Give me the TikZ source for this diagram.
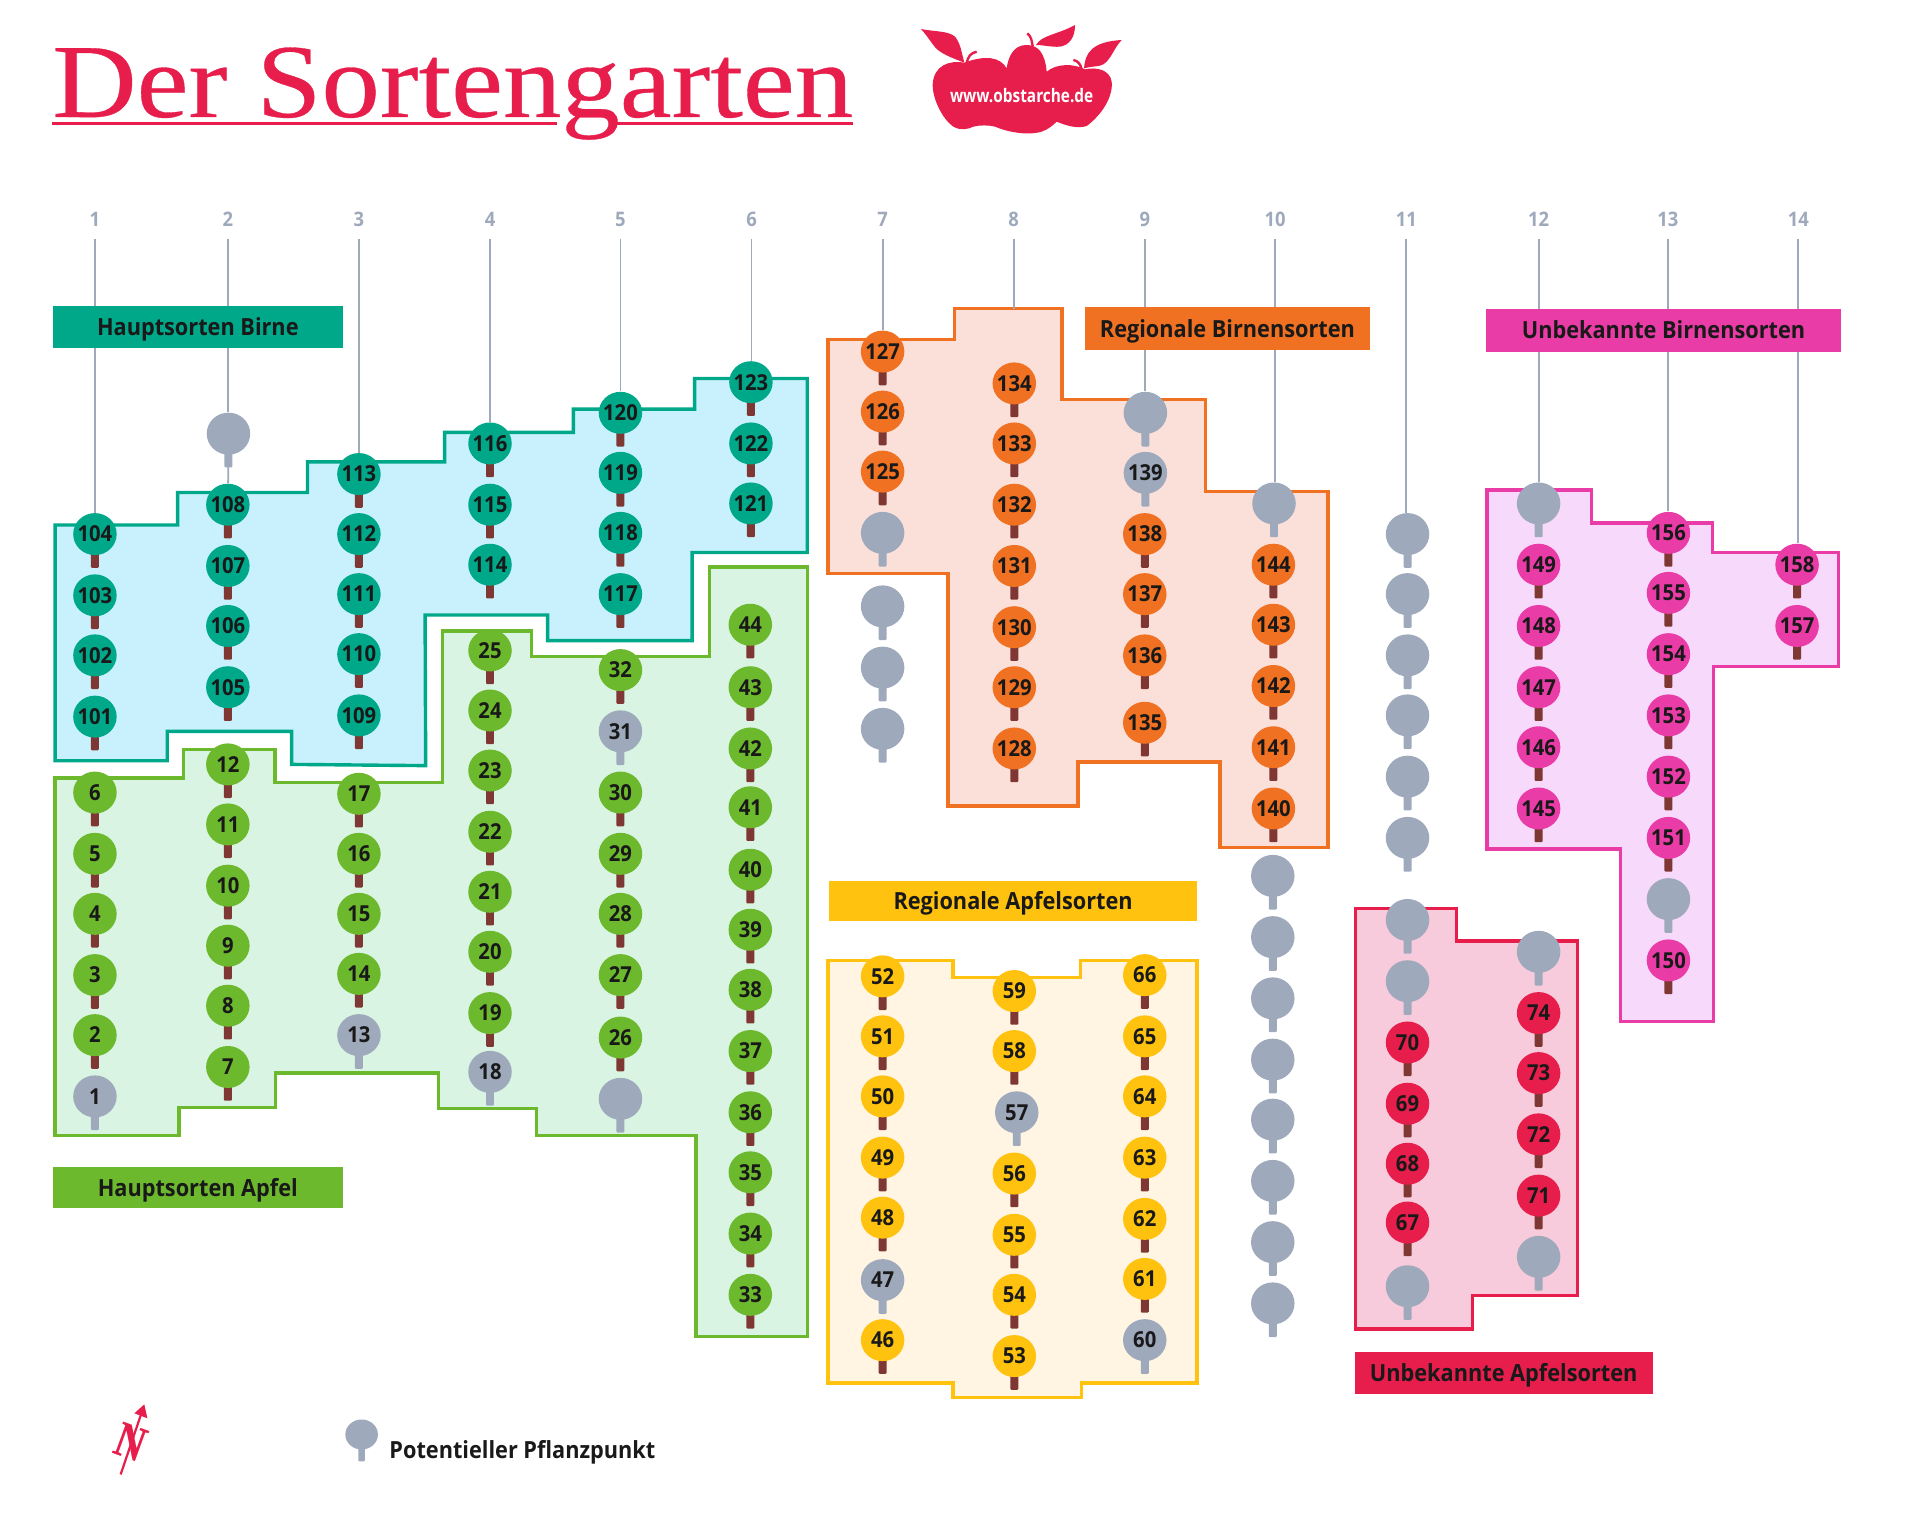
\documentclass[tikz,border=0pt]{standalone}
\usepackage{fontspec}
\usetikzlibrary{shapes.geometric}
\setmainfont{Open Sans}
\newfontfamily\numfont[FakeStretch=0.92]{Open Sans}
\newfontfamily\titlefont[FakeBold=0.3]{Liberation Serif}
\definecolor{cteal}{HTML}{00A88A}
\definecolor{cgreen}{HTML}{6CB92E}
\definecolor{corange}{HTML}{F07122}
\definecolor{cyellow}{HTML}{FFC20E}
\definecolor{cred}{HTML}{E71D4B}
\definecolor{cpink}{HTML}{E93CA6}
\definecolor{cgray}{HTML}{9EA9BC}
\definecolor{cstem}{HTML}{7F3733}
\definecolor{fteal}{HTML}{C9F1FD}
\definecolor{fgreen}{HTML}{D9F4E3}
\definecolor{forange}{HTML}{FBE0DA}
\definecolor{fyellow}{HTML}{FFF5E2}
\definecolor{fred}{HTML}{F7CBDB}
\definecolor{fpink}{HTML}{F7D9FC}
\tikzset{
  bed/.style n args={2}{draw=#1,fill=#2,line width=1.7pt,miter limit=10},
  treenode/.style={ellipse,fill=#1,inner sep=0pt,minimum width=21.75pt,minimum height=21pt,
     font=\numfont\bfseries\fontsize{11}{11}\selectfont,text=black!90},
  colline/.style={draw=cgray,line width=0.9pt},
  collabel/.style={text=cgray,font=\numfont\bfseries\fontsize{10}{10}\selectfont,inner sep=0pt},
  labelbox/.style n args={3}{fill=#1,minimum width=#2*0.6125pt,minimum height=#3*0.6125pt,inner sep=0pt,
     text height=8.6pt,text depth=0pt,
     font=\numfont\bfseries\fontsize{11.8}{11.8}\selectfont,text=black!90},
}
% \treeat{x}{y}{name}{colour}{stem colour}{text}
\newcommand{\treeat}[6]{%
  \fill[#5,rounded corners=0.5pt] (#1-3.25,#2) rectangle (#1+3.25,#2+27.5);
  \node[treenode=#4] (#3) at (#1,#2) {\makebox[0pt]{\raisebox{-3.9pt}[0pt][0pt]{#6}}};
}
\newcommand{\lst}[3]{% x, colour, list y/number
  \foreach \yy/\nn in {#3} {\treeat{#1}{\yy}{t\nn}{#2}{cstem}{\nn}}%
}
\newcommand{\gry}[2]{% x, list y/number
  \foreach \yy/\nn in {#2} {\treeat{#1}{\yy}{t\nn}{cgray}{cgray}{\nn}}%
}
\newcommand{\blank}[2]{% x, list y/name
  \foreach \yy/\nn in {#2} {\treeat{#1}{\yy}{g\nn}{cgray}{cgray}{}}%
}
\begin{document}
\begin{tikzpicture}[x=0.6125pt,y=-0.6125pt]
\useasboundingbox (0,0) rectangle (1567.35,1246.53);
% beds
\path[bed={cteal}{fteal}] (45,428.6) -- (145,428.6) -- (145,402) -- (251,402) -- (251,377) -- (363,377) -- (363,353) -- (468,353) -- (468,334) -- (567,334) -- (567,309) -- (659,309) -- (659,451) -- (565,451) -- (565,523) -- (447,523) -- (447,502) -- (347,502) -- (347.5,625) -- (238,624) -- (238,597) -- (136.5,597) -- (136.5,621) -- (45,621) -- cycle;
\path[bed={cgreen}{fgreen}] (45,635) -- (149.6,635) -- (149.6,612) -- (224.6,612) -- (224.6,639) -- (361,639) -- (361,515) -- (434,515) -- (434,536) -- (579,536) -- (579,463) -- (659,463) -- (659,1091) -- (568,1091) -- (568,927) -- (438,927) -- (438,905) -- (358,905) -- (358,876) -- (225,876) -- (225,904) -- (146,904) -- (146,927) -- (45,927) -- cycle;
\path[bed={corange}{forange}] (676,277) -- (779,277) -- (779,252) -- (867,252) -- (867,326) -- (984,326) -- (984,401) -- (1084,401) -- (1084,692) -- (996,692) -- (996,622) -- (880,622) -- (880,658) -- (774,658) -- (774,468) -- (676,468) -- cycle;
\path[bed={cyellow}{fyellow}] (676,784) -- (778,784) -- (778,798) -- (882,798) -- (882,784) -- (977,784) -- (977,1129) -- (883,1129) -- (883,1141) -- (778,1141) -- (778,1129) -- (676,1129) -- cycle;
\path[bed={cred}{fred}] (1106.4,741.5) -- (1188.8,741.5) -- (1188.8,768) -- (1287.8,768) -- (1287.8,1057.4) -- (1202,1057.4) -- (1202,1085) -- (1106.4,1085) -- cycle;
\path[bed={cpink}{fpink}] (1214,400) -- (1299,400) -- (1299,427) -- (1398,427) -- (1398,451) -- (1501,451) -- (1501,544) -- (1399,544) -- (1399,834) -- (1323,834) -- (1323,693) -- (1214,693) -- cycle;
% column 1
\lst{77.5}{cteal}{436/104,486/103,535/102,585/101}
\lst{77.5}{cgreen}{647/6,697/5,746/4,796/3,845/2}
\gry{77.5}{895/1}
% column 2
\blank{186.5}{354/b2}
\lst{186}{cteal}{412/108,462/107,511/106,561/105}
\lst{186}{cgreen}{624/12,673/11,723/10,772/9,821/8,871/7}
% column 3
\lst{293}{cteal}{387/113,436/112,485/111,534/110,584/109}
\lst{293}{cgreen}{648/17,697/16,746/15,795/14}
\gry{293}{845/13}
% column 4
\lst{400}{cteal}{362/116,412/115,461/114}
\lst{400}{cgreen}{531/25,580/24,629/23,679/22,728/21,777/20,827/19}
\gry{400}{875/18}
% column 5
\lst{506.5}{cteal}{337/120,386/119,435/118,485/117}
\lst{506.5}{cgreen}{547/32,647/30,697/29,746/28,796/27,847/26}
\gry{506.5}{597/31}
\blank{506.5}{897/b5}
% column 6
\lst{613}{cteal}{312/123,362/122,411/121}
\lst{612.5}{cgreen}{510/44,561/43,611/42,659/41,710/40,759/39,808/38,858/37,908/36,957/35,1007/34,1057/33}
% column 7
\lst{720.5}{corange}{287/127,336/126,385/125}
\blank{720.5}{435/a7,495/b7,545/c7,595/d7}
\lst{720.5}{cyellow}{797/52,846/51,895/50,945/49,994/48,1094/46}
\gry{720.5}{1045/47}
% column 8
\lst{828}{corange}{313/134,362/133,412/132,462/131,512/130,561/129,611/128}
\lst{828}{cyellow}{809/59,858/58,958/56,1008/55,1057/54,1107/53}
\gry{830}{908/57}
% column 9
\blank{935}{337/a9}
\gry{935}{386/139}
\lst{934.5}{corange}{436/138,485/137,535/136,590/135}
\lst{934.5}{cyellow}{796/66,846/65,895/64,945/63,995/62,1044/61}
\gry{934.5}{1094/60}
% column 10
\blank{1040}{411/a10}
\lst{1039.5}{corange}{461/144,510/143,560/142,610/141,660/140}
\blank{1039}{715/b10,765/c10,815/d10,865/e10,914/f10,964/h10,1014/i10,1064/j10}
% column 11
\blank{1149}{436/a11,485/b11,535/c11,584/d11,634/e11,684/f11,751/h11,801/i11,1050/j11}
\lst{1149}{cred}{851/70,901/69,950/68,998/67}
% column 12
\blank{1256}{411/a12,777/b12,1026/c12}
\lst{1256}{cpink}{461/149,511/148,561/147,610/146,660/145}
\lst{1256}{cred}{827/74,876/73,926/72,976/71}
% column 13
\lst{1362}{cpink}{435/156,484/155,534/154,584/153,634/152,684/151,784/150}
\blank{1362}{734/a13}
% column 14
\lst{1467}{cpink}{461/158,511/157}
% column heads and lines
\foreach \xx/\cc in {77.5/1,186/2,293/3,400/4,506.5/5,613.5/6,720.5/7,827.5/8,934.5/9,1041/10,1148/11,1256/12,1361.5/13,1468/14}{
  \node[collabel] (n\cc) at (\xx,179) {\cc};
  \coordinate (c\cc) at (\xx,195);
}
\coordinate (e8) at (827.5,252);
\draw[colline] (c1) -- (c1|-t104.north);
\draw[colline] (c2) -- (c2|-gb2.north);
\draw[colline] (gb2.south) -- (t108);
\draw[colline] (c3) -- (c3|-t113.north);
\draw[colline] (c4) -- (c4|-t116.north);
\draw[colline] (c5) -- (c5|-t120.north);
\draw[colline] (c6) -- (c6|-t123.north);
\draw[colline] (c7) -- (c7|-t127.north);
\draw[colline] (c8) -- (e8);
\draw[colline] (c9) -- (c9|-ga9.north);
\draw[colline] (c10) -- (c10|-ga10.north);
\draw[colline] (c11) -- (c11|-ga11.north);
\draw[colline] (c12) -- (c12|-ga12.north);
\draw[colline] (c13) -- (c13|-t156.north);
\draw[colline] (c14) -- (c14|-t158.north);
% category labels
\node[labelbox={cteal}{237}{34}] (lHB) at (161.5,267) {Hauptsorten Birne};
\node[labelbox={corange}{232}{35}] (lRB) at (1002,268.5) {Regionale Birnensorten};
\node[labelbox={cpink}{290}{35}] (lUB) at (1358,269.5) {Unbekannte Birnensorten};
\node[labelbox={cyellow}{300}{33}] (lRA) at (827,735.5) {Regionale Apfelsorten};
\node[labelbox={cgreen}{237}{33}] (lHA) at (161.5,969.5) {Hauptsorten Apfel};
\node[labelbox={cred}{243}{34}] (lUA) at (1227.5,1121) {Unbekannte Apfelsorten};
% title
\node[anchor=base west,inner sep=0pt,text=cred,font=\titlefont\fontsize{52.5}{52.5}\selectfont] (title) at (42.4,95.5) {\scalebox{1.112}[1]{Der Sortengarten}};
\draw[cred,line width=1.5pt] (42.4,101) -- (454.5,101);
\draw[cred,line width=1.5pt] (503.5,101) -- (696,101);
% logo
\begin{scope}[shift={(742.86,8.16)},x=0.16667pt,y=-0.16667pt]
\fill[cred] (163,158) .. controls (120,150) and (70,165) .. (68,225)
  .. controls (68,270) and (100,330) .. (130,350)
  .. controls (150,362) and (175,358) .. (190,350)
  .. controls (210,345) and (235,345) .. (255,350)
  .. controls (290,365) and (350,378) .. (395,365)
  .. controls (415,358) and (430,345) .. (440,335)
  .. controls (465,345) and (500,358) .. (530,348)
  .. controls (575,315) and (610,260) .. (605,215)
  .. controls (600,180) and (560,170) .. (525,178)
  .. controls (490,160) and (440,160) .. (410,185)
  .. controls (405,130) and (385,105) .. (350,105)
  .. controls (310,105) and (295,140) .. (290,175)
  .. controls (270,140) and (225,135) .. (163,158) -- cycle;
% left leaf
\fill[cred] (33,57) .. controls (70,65) and (115,62) .. (135,80)
  .. controls (152,100) and (155,130) .. (163,158)
  .. controls (130,145) and (85,130) .. (70,105) .. controls (55,85) and (45,70) .. (33,57) -- cycle;
% middle leaf
\fill[cred] (378,105) .. controls (395,75) and (440,75) .. (495,45)
  .. controls (495,80) and (480,105) .. (450,110)
  .. controls (425,112) and (400,105) .. (378,105) -- cycle;
% right leaf
\fill[cred] (522,175) .. controls (525,130) and (545,95) .. (635,90)
  .. controls (610,115) and (600,160) .. (570,167)
  .. controls (555,170) and (540,170) .. (522,175) -- cycle;
% stems
\draw[cred,line width=1.2pt] (200,125) .. controls (180,130) and (175,140) .. (170,158);
\draw[cred,line width=1.2pt] (352,70) .. controls (365,80) and (365,95) .. (368,108);
\draw[cred,line width=1.2pt] (490,150) .. controls (505,152) and (512,165) .. (515,178);
\node[text=white,inner sep=0pt,font=\numfont\bfseries\fontsize{9.3}{9.3}\selectfont] (logotext) at (335,258) {\scalebox{0.9}[1]{www.obstarche.de}};
\end{scope}
% north arrow
\fill[cred] (109.7,1153.7) -- (117.8,1146.4) -- (120.3,1157.8) -- cycle;
\coordinate (narrowA) at (98.5,1203.6);
\coordinate (narrowB) at (115,1155);
\draw[cred,line width=1.1pt] (narrowA) -- (narrowB);
\node[text=cred,inner sep=0pt,rotate=-20,font=\titlefont\bfseries\fontsize{25}{25}\selectfont] (north) at (106.5,1177) {\scalebox{0.8}[1]{N}};
% legend
\fill[cgray,rounded corners=0.5pt] (292.6,1171) rectangle (297.8,1193);
\node[ellipse,fill=cgray,inner sep=0pt,minimum width=16.3pt,minimum height=15pt] (legendtree) at (295.2,1171) {};
\node[anchor=base west,inner sep=0pt,font=\numfont\bfseries\fontsize{11.8}{11.8}\selectfont,text=black!90] (legendtext) at (317.6,1191) {Potentieller Pflanzpunkt};
\end{tikzpicture}
\end{document}
